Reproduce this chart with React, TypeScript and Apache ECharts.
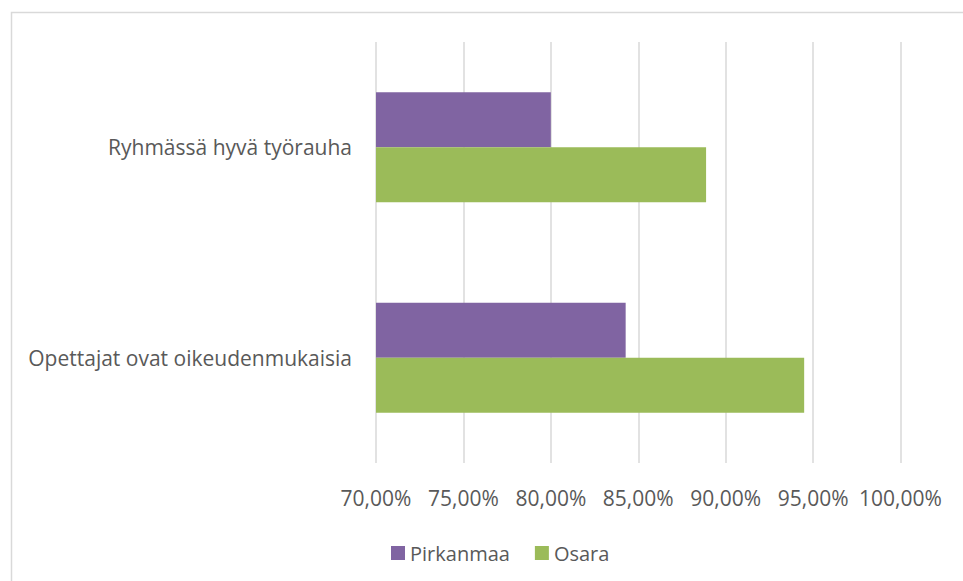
import React, { useEffect, useRef } from "react";
import * as echarts from "echarts";

const categories = ["Opettajat ovat oikeudenmukaisia", "Ryhmässä hyvä työrauha"];
const pirkanmaa = [84.28, 80.0];
const osara = [94.49, 88.88];
const seriesNames = ["Pirkanmaa", "Osara"];

const FONT = "'Open Sans', sans-serif";
const TEXT = "#595959";

export default function App() {
  const ref = useRef<HTMLDivElement>(null);
  useEffect(() => {
    document.body.style.margin = "0";
    const chart = echarts.init(ref.current!, null, { renderer: "svg" });
    chart.setOption({
      animation: false,
      backgroundColor: "#ffffff",
      textStyle: { fontFamily: FONT },
      graphic: [
        {
          type: "rect",
          shape: { x: 11.5, y: 12.5, width: 1000, height: 700 },
          style: { fill: "none", stroke: "#d9d9d9", lineWidth: 1.5 },
          silent: true,
        },
      ],
      grid: { left: 376, right: 62.5, top: 42, bottom: 118, containLabel: false },
      legend: {
        data: seriesNames,
        left: 386,
        top: 538,
        itemWidth: 14,
        itemHeight: 14,
        itemGap: 25,
        icon: "rect",
        textStyle: { color: TEXT, fontSize: 20, fontFamily: FONT },
      },
      xAxis: {
        type: "value",
        min: 70,
        max: 100,
        interval: 5,
        axisLine: { show: false },
        axisTick: { show: false },
        splitLine: { lineStyle: { color: "#d9d9d9", width: 1.5 } },
        axisLabel: {
          color: TEXT,
          fontSize: 21,
          fontFamily: FONT,
          margin: 24,
          formatter: (v: number) => v.toFixed(2).replace(".", ",") + "%",
        },
      },
      yAxis: {
        type: "category",
        data: categories,
        axisLine: { show: false },
        axisTick: { show: false },
        axisLabel: { color: TEXT, fontSize: 21, fontFamily: FONT, margin: 24 },
      },
      series: [
        {
          name: "Pirkanmaa",
          type: "bar",
          data: pirkanmaa,
          barWidth: 55,
          barGap: "0%",
          itemStyle: { color: "#8064A2" },
        },
        {
          name: "Osara",
          type: "bar",
          data: osara,
          barWidth: 55,
          barGap: "0%",
          itemStyle: { color: "#9BBB59" },
        },
      ],
    });
    return () => chart.dispose();
  }, []);
  return (
    <div
      ref={ref}
      style={{ position: "fixed", left: 0, top: 0, width: 963, height: 581 }}
    />
  );
}
